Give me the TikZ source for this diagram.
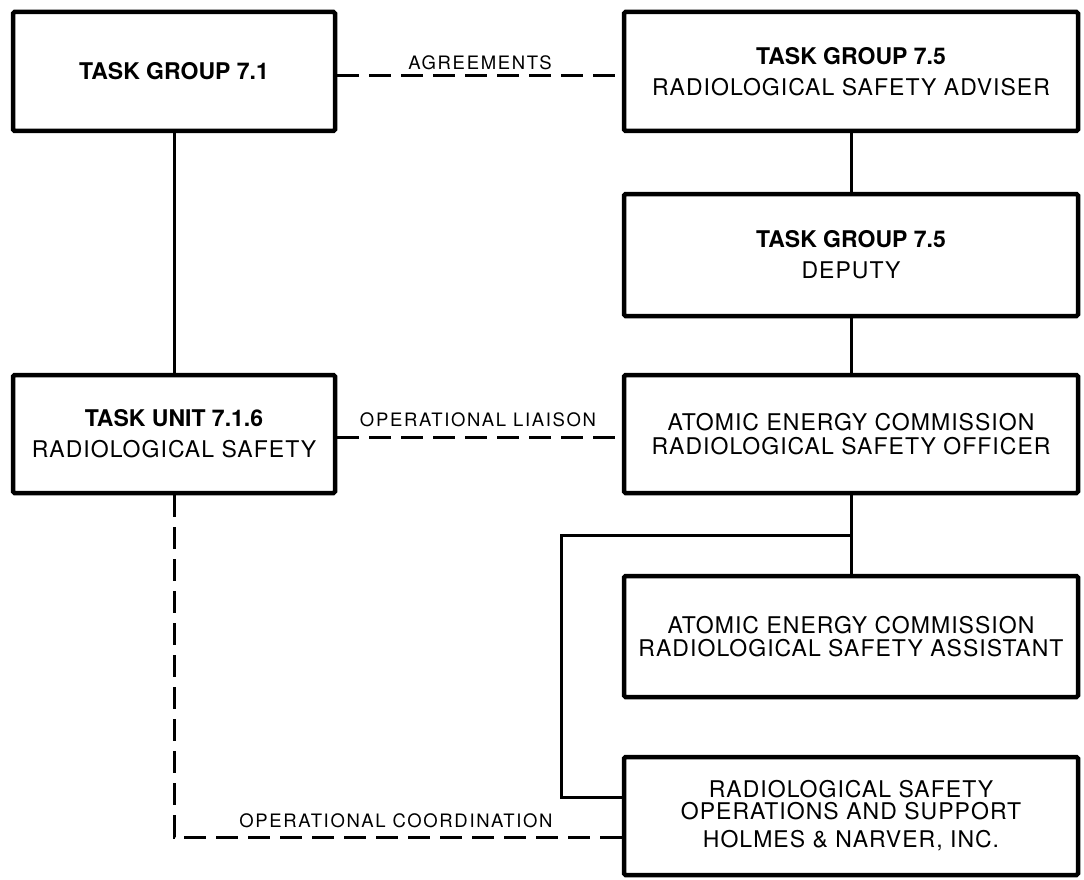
\documentclass[tikz,border=0pt]{standalone}
\usepackage{fontspec}
\setmainfont{TeX Gyre Heros}
\newfontfamily\boxreg[LetterSpace=4.5]{TeX Gyre Heros}
\newfontfamily\labfont[LetterSpace=9]{TeX Gyre Heros}
\begin{document}
\begin{tikzpicture}[x=1pt,y=-1pt,
  orgbox/.style={draw, line width=4.5pt, rounded corners=1.5pt, align=center,
    inner sep=0pt, minimum width=454pt, font=\fontsize{23}{31}\selectfont},
  tight/.style={font=\fontsize{23}{23.5}\selectfont},
  conn/.style={line width=3pt},
  dsh/.style={line width=3pt, dash pattern=on 22pt off 10pt},
  lab/.style={anchor=base, inner sep=0pt, font=\labfont\fontsize{18.5}{20}\selectfont}]
\useasboundingbox[fill=white] (0,0) rectangle (1084,880);

% boxes
\node[orgbox, minimum width=322pt, minimum height=119pt] (tg71) at (174,71.5)
  {\bfseries TASK GROUP 7.1};
\node[orgbox, minimum height=119pt] (tg75) at (851,71.5)
  {{\bfseries TASK GROUP 7.5}\\ \boxreg RADIOLOGICAL SAFETY ADVISER};
\node[orgbox, minimum height=122pt] (dep) at (851,255)
  {{\bfseries TASK GROUP 7.5}\\ \boxreg DEPUTY};
\node[orgbox, minimum width=322pt, minimum height=118pt] (tu) at (174,434)
  {{\bfseries TASK UNIT 7.1.6}\\ \boxreg RADIOLOGICAL SAFETY};
\node[orgbox, tight, minimum height=118pt] (rso) at (851,434)
  {\boxreg ATOMIC ENERGY COMMISSION\\ \boxreg RADIOLOGICAL SAFETY OFFICER};
\node[orgbox, tight, minimum height=121pt] (rsa) at (851,636.5)
  {\boxreg ATOMIC ENERGY COMMISSION\\ \boxreg RADIOLOGICAL SAFETY ASSISTANT};
\node[orgbox, font=\fontsize{23}{22}\selectfont, minimum height=118pt] (hn) at (851,816)
  {\boxreg RADIOLOGICAL SAFETY\\ \boxreg OPERATIONS AND SUPPORT\\[6pt] \boxreg HOLMES \& NARVER, INC.};

% solid connectors
\draw[conn] (tg71.south) -- (tu.north);
\draw[conn] (tg75.south) -- (dep.north);
\draw[conn] (dep.south) -- (rso.north);
\draw[conn] (rso.south) -- (rsa.north);
\coordinate (j1) at (851,535);
\coordinate (j3) at (561,797);
\draw[conn] (j1) -| (j3) -- (j3 -| hn.west);

% dashed connectors
\coordinate (a1) at (337,76);
\draw[dsh] (tg71.east |- a1) -- (tg75.west |- a1);
\coordinate (l1) at (337,437);
\draw[dsh] (tu.east |- l1) -- (rso.west |- l1);
\coordinate (c1) at (174,837);
\draw[dsh] (tu.south) -- (c1) -- (c1 -| hn.west);

% labels
\node[lab] (lagr) at (480,70) {AGREEMENTS};
\node[lab] (llia) at (478,426) {OPERATIONAL LIAISON};
\node[lab] (lcoo) at (396,827) {OPERATIONAL COORDINATION};
\end{tikzpicture}
\end{document}
